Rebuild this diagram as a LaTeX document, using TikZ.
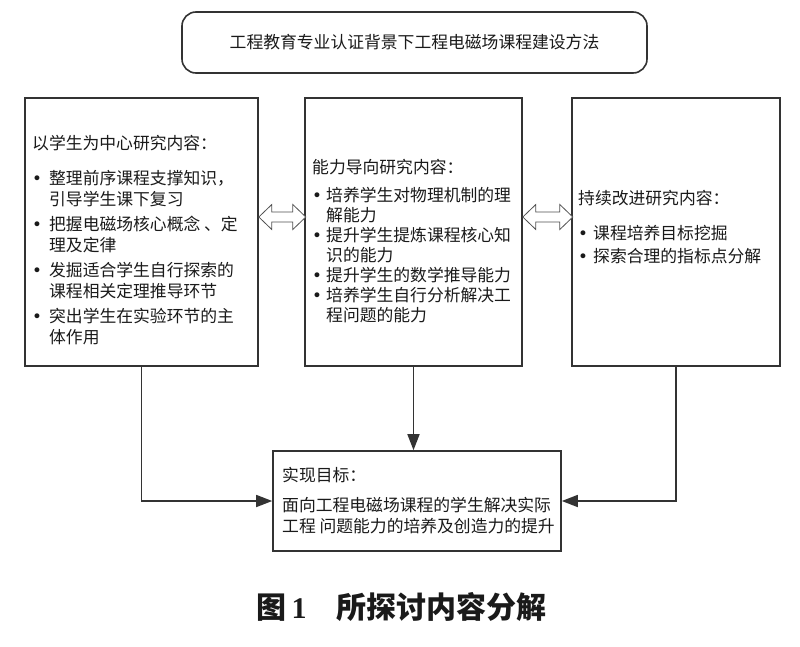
\documentclass[tikz,border=0pt]{standalone}
\usepackage{fontspec}
\setmainfont{Noto Sans CJK SC}
\newfontfamily\bulletfont{DejaVu Sans}
\newfontfamily\numfont{Liberation Serif}
\usetikzlibrary{arrows.meta}
\definecolor{edge}{HTML}{333333}
\definecolor{txt}{HTML}{1A1A1A}
\newcommand{\bul}[1][17pt]{\makebox[#1][l]{\bulletfont •}}
\newcommand{\dblarr}[2]{%
  \draw[dbl] (#1) -- ++(13,-12.5) -- ++(0,7.5) -- ++({#2-26},0) -- ++(0,-7.5)
    -- ++(13,12.5) -- ++(-13,12.5) -- ++(0,-7.5) -- ++({26-#2},0) -- ++(0,7.5) -- cycle;}
\begin{document}
\begin{tikzpicture}[x=1pt,y=-1pt,
  box/.style={draw=edge, line width=1.6pt, fill=white, inner sep=0pt},
  body/.style={inner sep=0pt, align=left, anchor=west, text=txt},
  conn/.style={draw=edge, line width=1.6pt, -{Triangle[length=16pt,width=12pt]}},
  dbl/.style={draw=edge!85, line width=0.8pt, fill=white, line join=miter}]
\useasboundingbox[fill=white] (0,0) rectangle (800,646);

% title
\node[box, rounded corners=14pt, minimum width=465pt, minimum height=61pt,
      text=txt, font=\fontsize{16.8}{20}\selectfont] (T) at (414.5,42.5)
      {工程教育专业认证背景下工程电磁场课程建设方法};

% three boxes
\node[box, minimum width=233pt, minimum height=268pt] (L) at (141.5,232) {};
\node[box, minimum width=217pt, minimum height=268pt] (M) at (413.5,232) {};
\node[box, minimum width=208pt, minimum height=268pt] (R) at (676,232) {};
% bottom box
\node[box, minimum width=288pt, minimum height=100pt] (B) at (417,501) {};

% texts
\node[body, font=\fontsize{16.8}{21}\selectfont] (Lt) at (32,240) {%
以学生为中心研究内容：\\[14pt]
\bul 整理前序课程支撑知识，\\
\hspace*{17pt}引导学生课下复习\\[4pt]
\bul 把握电磁场核心概念 、定\\
\hspace*{17pt}理及定律\\[4pt]
\bul 发掘适合学生自行探索的\\
\hspace*{17pt}课程相关定理推导环节\\[4pt]
\bul 突出学生在实验环节的主\\
\hspace*{17pt}体作用};

\node[body, font=\fontsize{16.8}{20}\selectfont] (Mt) at (312,241) {%
能力导向研究内容：\\[8pt]
\bul[14pt]培养学生对物理机制的理\\
\hspace*{14pt}解能力\\
\bul[14pt]提升学生提炼课程核心知\\
\hspace*{14pt}识的能力\\
\bul[14pt]提升学生的数学推导能力\\
\bul[14pt]培养学生自行分析解决工\\
\hspace*{14pt}程问题的能力};

\node[body, font=\fontsize{16.8}{23}\selectfont] (Rt) at (578,227) {%
持续改进研究内容：\\[12pt]
\bul[15pt]课程培养目标挖掘\\
\bul[15pt]探索合理的指标点分解};

\node[body, font=\fontsize{16.8}{21}\selectfont] (Bt) at (282,500.5) {%
实现目标：\\[9pt]
面向工程电磁场课程的学生解决实际\\
工程 问题能力的培养及创造力的提升};

% double arrows
\coordinate (dl) at (L.east |- 0,217);
\coordinate (dr) at (M.east |- 0,217);
\dblarr{dl}{47}
\dblarr{dr}{50}

% connectors
\draw[conn] (L.south) -- (L.south |- B.west) -- (B.west);
\draw[conn] (M.south) -- (M.south |- B.north);
\draw[conn] (R.south) -- (R.south |- B.east) -- (B.east);

% caption
\node[inner sep=0pt, text=txt, font=\fontsize{30}{32}\selectfont\bfseries] (cap) at (401.5,607)
  {图\,{\numfont 1}\hspace{30pt}所探讨内容分解};
\end{tikzpicture}
\end{document}
